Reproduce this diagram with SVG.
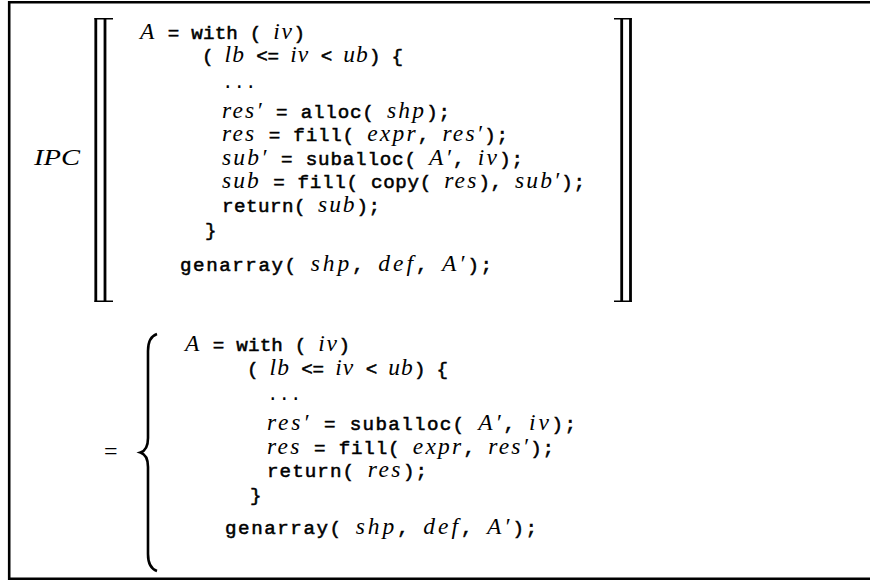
<svg xmlns="http://www.w3.org/2000/svg" width="870" height="581" viewBox="0 0 870 581" xml:space="preserve">
<style>
.t{font-family:"Liberation Mono","DejaVu Sans Mono",monospace;font-size:19.2px;fill:#000;stroke:#000;stroke-width:0.55}
.d{font-family:"Liberation Mono","DejaVu Sans Mono",monospace;font-size:19.2px;fill:#000}
.m{font-family:"Liberation Serif","Times New Roman",serif;font-style:italic;font-size:23.5px;letter-spacing:1.4px;fill:#000}
.r{font-family:"Liberation Serif","Times New Roman",serif;font-size:24px;fill:#000}
.c{font-family:"Liberation Serif","Times New Roman",serif;font-style:italic;font-size:23px;fill:#000}
.br{fill:none;stroke:#000;stroke-width:2.8}
.tk{fill:none;stroke:#000;stroke-width:1.6}
</style>
<rect x="0" y="0" width="870" height="581" fill="#fff"/>
<g id="frame"><path d="M870,2.3 H9.2 V578.7 H870" fill="none" stroke="#000" stroke-width="2.6"/></g>

<g id="ipc-label"><text class="c" x="34" y="165" textLength="46" lengthAdjust="spacingAndGlyphs">IPC</text></g>

<g id="brackets-left">
<path class="br" d="M95.8,18 V302 M105,18 V302"/>
<path class="tk" d="M94.5,18.8 H105 M103.7,18.8 H113 M94.5,301.2 H105 M103.7,301.2 H113"/>
</g>
<g id="brackets-right">
<path class="br" d="M621.7,18 V302 M630.5,18 V302"/>
<path class="tk" d="M614,18.8 H623 M623,18.8 H631.8 M614,301.2 H623 M623,301.2 H631.8"/>
</g>

<g id="block-top">
<text x="140" y="39" textLength="165" lengthAdjust="spacing"><tspan class="m">A</tspan><tspan class="t"> = with ( </tspan><tspan class="m">iv</tspan><tspan class="t">)</tspan></text>
<text x="202" y="62" textLength="201" lengthAdjust="spacing"><tspan class="t">( </tspan><tspan class="m">lb</tspan><tspan class="t"> &lt;= </tspan><tspan class="m">iv</tspan><tspan class="t"> &lt; </tspan><tspan class="m">ub</tspan><tspan class="t">) {</tspan></text>
<text x="222" y="88"><tspan class="d">...</tspan></text>
<text x="222" y="118" textLength="228" lengthAdjust="spacing"><tspan class="m">res′</tspan><tspan class="t"> = alloc( </tspan><tspan class="m">shp</tspan><tspan class="t">);</tspan></text>
<text x="222" y="141" textLength="286" lengthAdjust="spacing"><tspan class="m">res</tspan><tspan class="t"> = fill( </tspan><tspan class="m">expr</tspan><tspan class="t">, </tspan><tspan class="m">res′</tspan><tspan class="t">);</tspan></text>
<text x="222" y="165" textLength="301" lengthAdjust="spacing"><tspan class="m">sub′</tspan><tspan class="t"> = suballoc( </tspan><tspan class="m">A′</tspan><tspan class="t">, </tspan><tspan class="m">iv</tspan><tspan class="t">);</tspan></text>
<text x="222" y="188" textLength="363" lengthAdjust="spacing"><tspan class="m">sub</tspan><tspan class="t"> = fill( copy( </tspan><tspan class="m">res</tspan><tspan class="t">), </tspan><tspan class="m">sub′</tspan><tspan class="t">);</tspan></text>
<text x="222" y="212" textLength="158" lengthAdjust="spacing"><tspan class="t">return( </tspan><tspan class="m">sub</tspan><tspan class="t">);</tspan></text>
<text x="205" y="236"><tspan class="t">}</tspan></text>
<text x="180" y="271" textLength="312" lengthAdjust="spacing"><tspan class="t">genarray( </tspan><tspan class="m">shp</tspan><tspan class="t">, </tspan><tspan class="m">def</tspan><tspan class="t">, </tspan><tspan class="m">A′</tspan><tspan class="t">);</tspan></text>
</g>

<g id="equals"><text class="r" x="104" y="459">=</text></g>

<g id="brace">
<path d="M157,334 C151,336 148,341 148,351 L148,438 C148,446 145,451 140.5,452.5 C145,454 148,459 148,467 L148,554 C148,564 151,569 157,571" fill="none" stroke="#000" stroke-width="2.6"/>
</g>

<g id="block-bottom">
<text x="185" y="351" textLength="165" lengthAdjust="spacing"><tspan class="m">A</tspan><tspan class="t"> = with ( </tspan><tspan class="m">iv</tspan><tspan class="t">)</tspan></text>
<text x="247" y="375" textLength="201" lengthAdjust="spacing"><tspan class="t">( </tspan><tspan class="m">lb</tspan><tspan class="t"> &lt;= </tspan><tspan class="m">iv</tspan><tspan class="t"> &lt; </tspan><tspan class="m">ub</tspan><tspan class="t">) {</tspan></text>
<text x="267" y="400"><tspan class="d">...</tspan></text>
<text x="267" y="430" textLength="309" lengthAdjust="spacing"><tspan class="m">res′</tspan><tspan class="t"> = suballoc( </tspan><tspan class="m">A′</tspan><tspan class="t">, </tspan><tspan class="m">iv</tspan><tspan class="t">);</tspan></text>
<text x="267" y="454" textLength="287" lengthAdjust="spacing"><tspan class="m">res</tspan><tspan class="t"> = fill( </tspan><tspan class="m">expr</tspan><tspan class="t">, </tspan><tspan class="m">res′</tspan><tspan class="t">);</tspan></text>
<text x="267" y="477" textLength="160" lengthAdjust="spacing"><tspan class="t">return( </tspan><tspan class="m">res</tspan><tspan class="t">);</tspan></text>
<text x="250" y="501"><tspan class="t">}</tspan></text>
<text x="225" y="534" textLength="312" lengthAdjust="spacing"><tspan class="t">genarray( </tspan><tspan class="m">shp</tspan><tspan class="t">, </tspan><tspan class="m">def</tspan><tspan class="t">, </tspan><tspan class="m">A′</tspan><tspan class="t">);</tspan></text>
</g>
</svg>
